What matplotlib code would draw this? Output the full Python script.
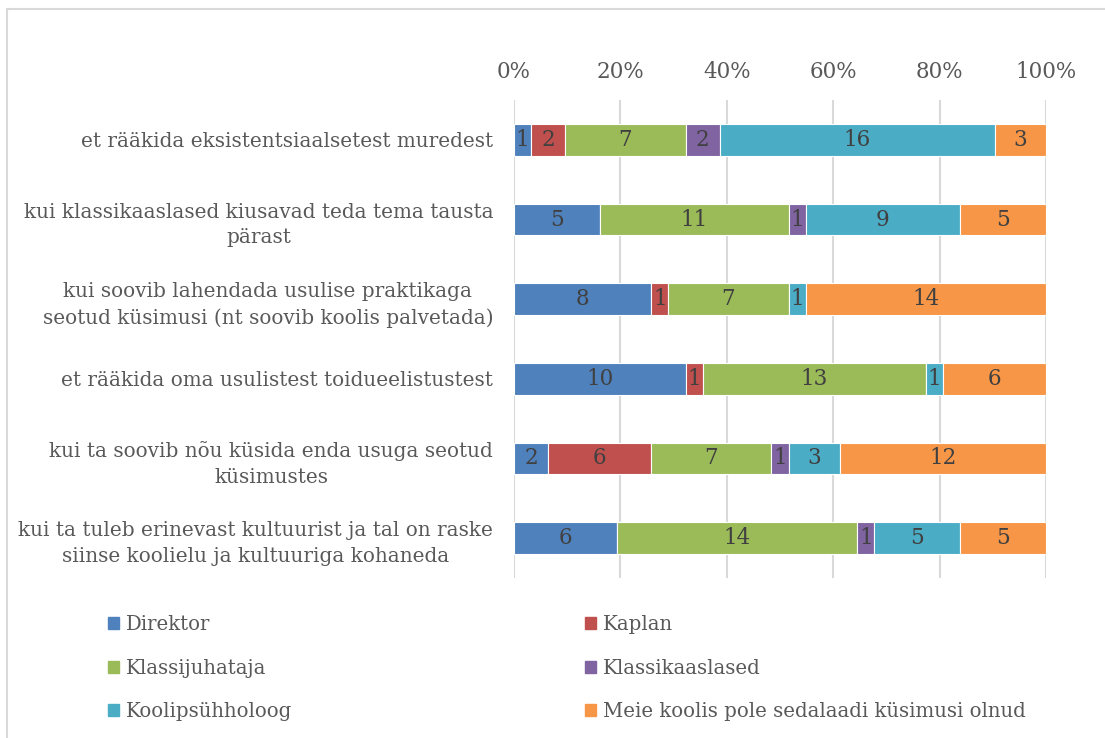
import numpy as np
import matplotlib.pyplot as plt
from matplotlib.patches import Patch, Rectangle

# categories top to bottom
categories = [
    "et rääkida eksistentsiaalsetest muredest",
    "kui klassikaaslased kiusavad teda tema tausta\npärast",
    "kui soovib lahendada usulise praktikaga\nseotud küsimusi (nt soovib koolis palvetada)",
    "et rääkida oma usulistest toidueelistustest",
    "kui ta soovib nõu küsida enda usuga seotud\nküsimustes",
    "kui ta tuleb erinevast kultuurist ja tal on raske\nsiinse koolielu ja kultuuriga kohaneda",
]
series = ["Direktor", "Kaplan", "Klassijuhataja", "Klassikaaslased",
          "Koolipsühholoog", "Meie koolis pole sedalaadi küsimusi olnud"]
colors = ["#4F81BD", "#C0504D", "#9BBB59", "#8064A2", "#4BACC6", "#F79646"]

direktor = [1, 5, 8, 10, 2, 6]
kaplan = [2, 0, 1, 1, 6, 0]
klassijuhataja = [7, 11, 7, 13, 7, 14]
klassikaaslased = [2, 1, 0, 0, 1, 1]
psuhholoog = [16, 9, 1, 1, 3, 5]
pole = [3, 5, 14, 6, 12, 5]

counts = np.array([direktor, kaplan, klassijuhataja, klassikaaslased, psuhholoog, pole], dtype=float)
totals = counts.sum(axis=0)
shares = counts / totals

plt.rcParams['font.family'] = ['DejaVu Serif']
text_col = "#595959"

fig = plt.figure(figsize=(11.05, 7.38), dpi=100)
ax = fig.add_axes([514 / 1105, 1 - 578 / 738, 532 / 1105, 478 / 738])

y = np.arange(len(categories))
left = np.zeros(len(categories))
for i in range(len(series)):
    ax.barh(y, shares[i], left=left, height=0.4, color=colors[i],
            edgecolor="white", linewidth=0.8, zorder=3)
    for j in range(len(categories)):
        if counts[i, j] > 0:
            ax.text(left[j] + shares[i, j] / 2, y[j], f"{int(counts[i, j])}",
                    ha="center", va="center", fontsize=15.5, color="#404040", zorder=4)
    left += shares[i]

ax.set_xlim(0, 1)
ax.set_ylim(len(categories) - 0.5, -0.5)
ax.set_yticks(y)
ax.set_yticklabels(categories, fontsize=14.4, color=text_col, multialignment="center",
                   linespacing=1.45)
ax.set_xticks(np.linspace(0, 1, 6))
ax.set_xticklabels([f"{int(v)}%" for v in np.linspace(0, 100, 6)], fontsize=15.5, color=text_col)
ax.xaxis.tick_top()
ax.tick_params(axis="x", length=0, pad=12)
ax.tick_params(axis="y", length=0, pad=15)
ax.grid(axis="x", color="#D9D9D9", linewidth=1.5, zorder=0)
for s in ax.spines.values():
    s.set_visible(False)

# chart border
fig.patches.append(Rectangle((7 / 1105, -0.1), 1.2, 1 - 9 / 738 + 0.1, transform=fig.transFigure,
                             fill=False, edgecolor="#D9D9D9", linewidth=1.5))

handles = [Patch(color=c) for c in colors]
leg_kw = dict(frameon=False, fontsize=14.2, handlelength=0.55, handleheight=0.55,
              handletextpad=0.35, labelspacing=1.25, labelcolor=text_col,
              borderpad=0, borderaxespad=0)
fig.legend([handles[0], handles[2], handles[4]], [series[0], series[2], series[4]],
           loc="upper left", bbox_to_anchor=(108 / 1105, 1 - 615 / 738), **leg_kw)
fig.legend([handles[1], handles[3], handles[5]], [series[1], series[3], series[5]],
           loc="upper left", bbox_to_anchor=(585 / 1105, 1 - 615 / 738), **leg_kw)

fig.savefig("out.png", dpi=100)
